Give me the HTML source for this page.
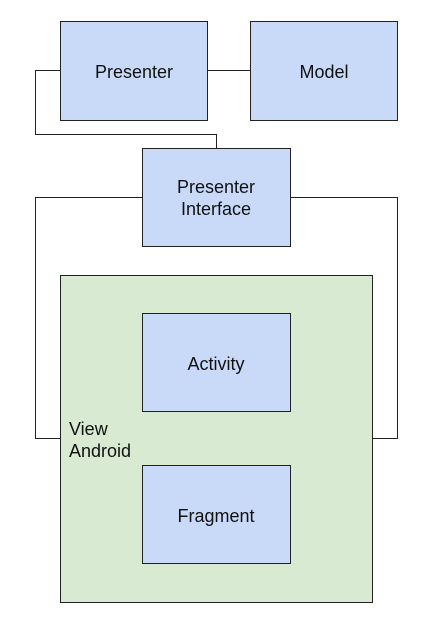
<!DOCTYPE html>
<html><head><meta charset="utf-8"><style>
html,body{margin:0;padding:0;background:#fff;width:433px;height:624px;overflow:hidden}
svg{display:block}
text{font-family:"Liberation Sans",Arial,sans-serif;font-size:18px;fill:#111}
</style></head><body>
<svg width="433" height="624" viewBox="0 0 433 624" xmlns="http://www.w3.org/2000/svg">
<g fill="none" stroke="#222" stroke-width="1">
<polyline points="60.5,70.5 35.5,70.5 35.5,134.5 216.5,134.5 216.5,148.5"/>
<line x1="207" y1="70.5" x2="250" y2="70.5"/>
<polyline points="142.5,197.5 35.5,197.5 35.5,438.5 60.5,438.5"/>
<polyline points="290.5,197.5 397.5,197.5 397.5,438.5 372.5,438.5"/>
</g>
<g stroke="#222" stroke-width="1">
<rect x="60.5" y="21.5" width="147" height="99" fill="#c9daf8"/>
<rect x="250.5" y="21.5" width="147" height="99" fill="#c9daf8"/>
<rect x="142.5" y="148.5" width="148" height="98" fill="#c9daf8"/>
<rect x="60.5" y="275.5" width="312" height="327" fill="#d9ead3"/>
<rect x="142.5" y="313.5" width="148" height="98" fill="#c9daf8"/>
<rect x="142.5" y="465.5" width="148" height="98" fill="#c9daf8"/>
</g>
<text x="134" y="78" text-anchor="middle">Presenter</text>
<text x="324" y="78" text-anchor="middle">Model</text>
<text x="216" y="193" text-anchor="middle">Presenter</text>
<text x="216" y="215" text-anchor="middle">Interface</text>
<text x="216" y="370" text-anchor="middle">Activity</text>
<text x="216" y="522" text-anchor="middle">Fragment</text>
<text x="69" y="435">View</text>
<text x="69" y="457">Android</text>
</svg>
</body></html>
